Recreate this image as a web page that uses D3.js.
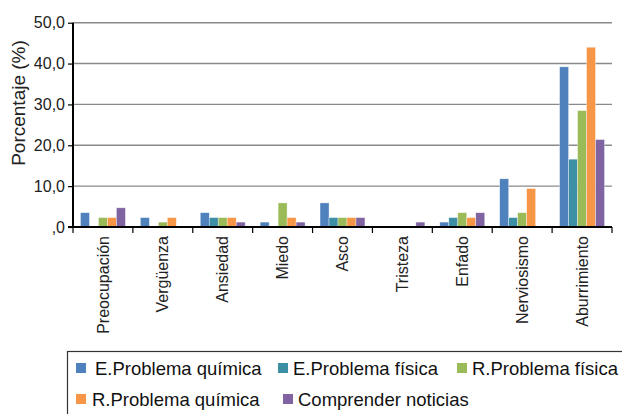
<!DOCTYPE html>
<html>
<head>
<meta charset="utf-8">
<script src="https://cdn.jsdelivr.net/npm/d3@7"></script>
<style>
  body { margin: 0; background: #fff; }
  svg { display: block; font-family: "Liberation Sans", Arial, sans-serif; }
</style>
</head>
<body>
<div id="chart"></div>
<script>
const categories = ["Preocupación", "Vergüenza", "Ansiedad", "Miedo", "Asco",
  "Tristeza", "Enfado", "Nerviosismo", "Aburrimiento"];
const seriesNames = ["E.Problema química", "E.Problema física", "R.Problema física",
  "R.Problema química", "Comprender noticias"];
const eQuimica   = [3.5, 2.3, 3.5, 1.2, 5.9, 0, 1.2, 11.8, 39.2];
const eFisica    = [0, 0, 2.3, 0, 2.3, 0, 2.3, 2.3, 16.6];
const rFisica    = [2.3, 1.2, 2.3, 5.9, 2.3, 0, 3.5, 3.5, 28.5];
const rQuimica   = [2.3, 2.3, 2.3, 2.3, 2.3, 0, 2.3, 9.4, 44.0];
const comprender = [4.7, 0, 1.2, 1.2, 2.3, 1.2, 3.5, 0, 21.4];
const yTicks = [0, 10, 20, 30, 40, 50];
const colors = ["#4f81bd", "#3d8fa6", "#9bbb59", "#f79646", "#8064a2"];

const seriesValues = [eQuimica, eFisica, rFisica, rQuimica, comprender];
const data = categories.map((c, i) => ({
  cat: c,
  values: seriesValues.map((s, k) => ({ key: seriesNames[k], value: s[i], k }))
}));

const width = 622, height = 414;
const margin = { top: 22.7, left: 73, right: 10, bottom: 187 };
const plotBottom = height - margin.bottom; // 227

const svg = d3.select("#chart").append("svg")
  .attr("width", width)
  .attr("height", height);

const x0 = d3.scaleBand()
  .domain(categories)
  .range([margin.left, width - margin.right])
  .paddingInner(0.25)
  .paddingOuter(0.125);

const x1 = d3.scaleBand()
  .domain(seriesNames)
  .range([0, x0.bandwidth()]);

const y = d3.scaleLinear()
  .domain([0, 50])
  .range([plotBottom, margin.top]);

// gridlines
svg.append("g")
  .selectAll("line")
  .data(yTicks.filter(t => t > 0))
  .enter().append("line")
    .attr("x1", margin.left)
    .attr("x2", width - margin.right)
    .attr("y1", d => y(d))
    .attr("y2", d => y(d))
    .attr("stroke", "#8a8a8a")
    .attr("stroke-width", 1.4);

// bars
svg.append("g")
  .selectAll("g")
  .data(data)
  .enter().append("g")
    .attr("transform", d => `translate(${x0(d.cat)},0)`)
  .selectAll("rect")
  .data(d => d.values.filter(v => v.value > 0))
  .enter().append("rect")
    .attr("x", d => x1(d.key))
    .attr("width", x1.bandwidth())
    .attr("y", d => y(d.value))
    .attr("height", d => plotBottom - y(d.value))
    .attr("fill", d => colors[d.k])
    .attr("stroke", "#fff")
    .attr("stroke-opacity", 0.6)
    .attr("stroke-width", 0.6);

// y axis
const yAxis = d3.axisLeft(y)
  .tickValues(yTicks)
  .tickSize(5)
  .tickPadding(3)
  .tickFormat(d => d === 0 ? ",0" : d3.format(".1f")(d).replace(".", ","));

const gy = svg.append("g")
  .attr("transform", `translate(${margin.left},0)`)
  .call(yAxis);
gy.select(".domain").attr("stroke", "#000").attr("stroke-width", 2)
  .attr("d", `M0,${y(50)}V${plotBottom}`);
gy.selectAll(".tick line").attr("stroke", "#000").attr("stroke-width", 1.2);
gy.selectAll(".tick text")
  .attr("font-size", 16)
  .attr("fill", "#222")
  .attr("font-family", "Liberation Sans, Arial, sans-serif");

// x axis
const xAxis = d3.axisBottom(x0).tickSize(0).tickFormat("");
const gx = svg.append("g")
  .attr("transform", `translate(0,${plotBottom})`)
  .call(xAxis);
gx.select(".domain").attr("stroke", "#000").attr("stroke-width", 2)
  .attr("d", `M${margin.left - 5},0H${width - margin.right}`);

// tick marks between categories
const bounds = categories.map(c => x0(c) - x0.step() * x0.paddingInner() / 2)
  .concat([width - margin.right]);
gx.selectAll(".sep")
  .data(bounds)
  .enter().append("line")
    .attr("class", "sep")
    .attr("x1", d => d).attr("x2", d => d)
    .attr("y1", 0).attr("y2", 6)
    .attr("stroke", "#000")
    .attr("stroke-width", 1.2);

// category labels
svg.append("g")
  .selectAll("text")
  .data(categories)
  .enter().append("text")
    .attr("transform", d => `translate(${x0(d) + x0.bandwidth() / 2},${plotBottom + 9}) rotate(-90)`)
    .attr("dy", "0.35em")
    .attr("text-anchor", "end")
    .attr("font-size", 16)
    .attr("fill", "#222")
    .text(d => d);

// y title
svg.append("text")
  .attr("transform", "translate(18,103) rotate(-90)")
  .attr("dy", "0.35em")
  .attr("text-anchor", "middle")
  .attr("font-size", 19)
  .attr("fill", "#222")
  .text("Porcentaje (%)");

// legend
const legend = svg.append("g");
legend.append("rect")
  .attr("x", 67.5)
  .attr("y", 351.5)
  .attr("width", 600)
  .attr("height", 100)
  .attr("fill", "none")
  .attr("stroke", "#333")
  .attr("stroke-width", 1.2);

const legendPos = [
  { x: 76, y: 363, tx: 95 },
  { x: 278, y: 363, tx: 293 },
  { x: 457, y: 363, tx: 472 },
  { x: 76, y: 394, tx: 92 },
  { x: 283, y: 394, tx: 298 }
];

const items = legend.selectAll(".item")
  .data(seriesNames)
  .enter().append("g")
    .attr("class", "item");
items.append("rect")
  .attr("x", (d, i) => legendPos[i].x)
  .attr("y", (d, i) => legendPos[i].y)
  .attr("width", 10)
  .attr("height", 10)
  .attr("fill", (d, i) => colors[i]);
items.append("text")
  .attr("x", (d, i) => legendPos[i].tx)
  .attr("y", (d, i) => legendPos[i].y + 12)
  .attr("font-size", 18.5)
  .attr("fill", "#111")
  .text(d => d);
</script>
</body>
</html>
